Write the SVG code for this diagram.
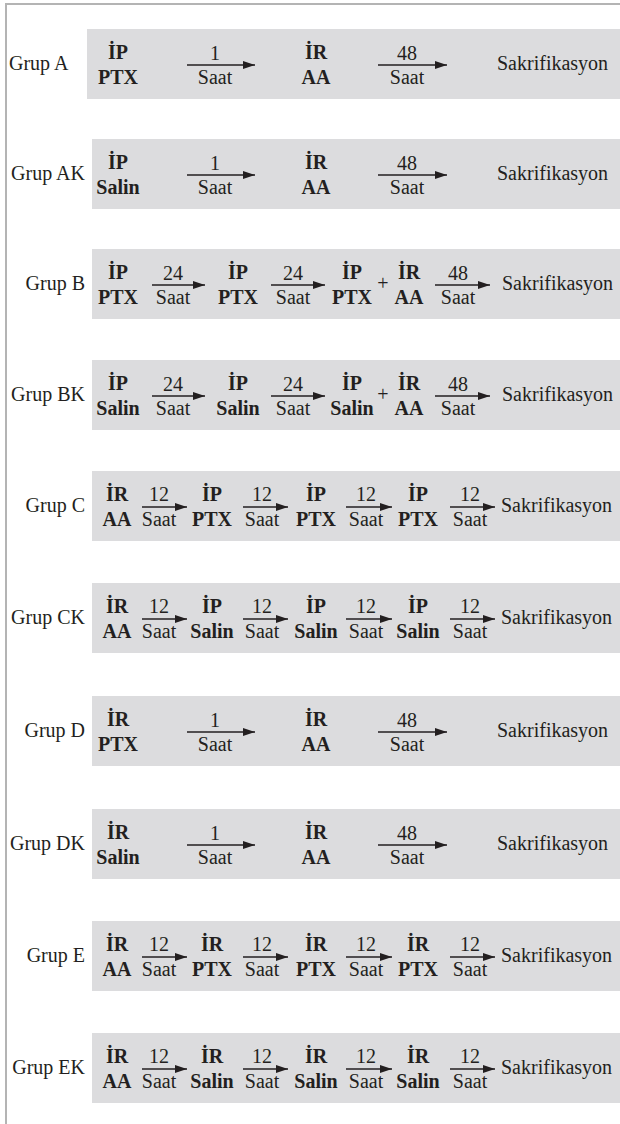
<svg xmlns="http://www.w3.org/2000/svg" width="620" height="1124" viewBox="0 0 620 1124">
  <style>
    text { font-family: "Liberation Serif", serif; font-size: 20px; fill: #231f20; }
    .b { font-weight: bold; }
    .m { text-anchor: middle; }
    .e { text-anchor: end; }
    .box { fill: #dcdcde; }
    .arr { stroke: #231f20; stroke-width: 1.5; fill: none; marker-end: url(#ah); }
  </style>
  <defs>
    <marker id="ah" markerUnits="userSpaceOnUse" markerWidth="12" markerHeight="8" refX="12" refY="4" orient="auto">
      <path d="M0,0 L12,4 L0,8 z" fill="#231f20"/>
    </marker>
  </defs>

  <rect width="620" height="1124" fill="#ffffff"/>
  <!-- outer frame: top and left rules -->
  <path d="M6,1124 V4 H620" stroke="#b4b4b4" stroke-width="2" fill="none"/>

  <g font-family="Liberation Serif, serif">
  <!-- Grup A -->
  <g id="grup-a" transform="translate(0,29)">
    <rect class="box" x="87" y="0" width="533" height="70"/>
    <text x="9" y="41">Grup A</text>
    <text class="b m" x="118" y="30">İP</text>
    <text class="b m" x="118" y="55">PTX</text>
    <text class="m" x="215" y="31">1</text>
    <text class="m" x="215" y="55">Saat</text>
    <text class="b m" x="316" y="30">İR</text>
    <text class="b m" x="316" y="55">AA</text>
    <text class="m" x="407" y="31">48</text>
    <text class="m" x="407" y="55">Saat</text>
    <text x="497" y="41">Sakrifikasyon</text>
  </g>

  <!-- Grup AK -->
  <g id="grup-ak" transform="translate(0,139)">
    <rect class="box" x="92" y="0" width="528" height="70"/>
    <text class="e" x="85" y="41">Grup AK</text>
    <text class="b m" x="118" y="30">İP</text>
    <text class="b m" x="118" y="55">Salin</text>
    <text class="m" x="215" y="31">1</text>
    <text class="m" x="215" y="55">Saat</text>
    <text class="b m" x="316" y="30">İR</text>
    <text class="b m" x="316" y="55">AA</text>
    <text class="m" x="407" y="31">48</text>
    <text class="m" x="407" y="55">Saat</text>
    <text x="497" y="41">Sakrifikasyon</text>
  </g>

  <!-- Grup B -->
  <g id="grup-b" transform="translate(0,249)">
    <rect class="box" x="92" y="0" width="528" height="70"/>
    <text class="e" x="85" y="41">Grup B</text>
    <text class="b m" x="118" y="30">İP</text>
    <text class="b m" x="118" y="55">PTX</text>
    <text class="m" x="173" y="31">24</text>
    <text class="m" x="173" y="55">Saat</text>
    <text class="b m" x="238" y="30">İP</text>
    <text class="b m" x="238" y="55">PTX</text>
    <text class="m" x="293" y="31">24</text>
    <text class="m" x="293" y="55">Saat</text>
    <text class="b m" x="352" y="30">İP</text>
    <text class="b m" x="352" y="55">PTX</text>
    <text class="m" x="383" y="41">+</text>
    <text class="b m" x="409" y="30">İR</text>
    <text class="b m" x="409" y="55">AA</text>
    <text class="m" x="458" y="31">48</text>
    <text class="m" x="458" y="55">Saat</text>
    <text x="502" y="41">Sakrifikasyon</text>
  </g>

  <!-- Grup BK -->
  <g id="grup-bk" transform="translate(0,360)">
    <rect class="box" x="92" y="0" width="528" height="70"/>
    <text class="e" x="85" y="41">Grup BK</text>
    <text class="b m" x="118" y="30">İP</text>
    <text class="b m" x="118" y="55">Salin</text>
    <text class="m" x="173" y="31">24</text>
    <text class="m" x="173" y="55">Saat</text>
    <text class="b m" x="238" y="30">İP</text>
    <text class="b m" x="238" y="55">Salin</text>
    <text class="m" x="293" y="31">24</text>
    <text class="m" x="293" y="55">Saat</text>
    <text class="b m" x="352" y="30">İP</text>
    <text class="b m" x="352" y="55">Salin</text>
    <text class="m" x="383" y="41">+</text>
    <text class="b m" x="409" y="30">İR</text>
    <text class="b m" x="409" y="55">AA</text>
    <text class="m" x="458" y="31">48</text>
    <text class="m" x="458" y="55">Saat</text>
    <text x="502" y="41">Sakrifikasyon</text>
  </g>

  <!-- Grup C -->
  <g id="grup-c" transform="translate(0,471)">
    <rect class="box" x="92" y="0" width="528" height="70"/>
    <text class="e" x="85" y="41">Grup C</text>
    <text class="b m" x="117" y="30">İR</text>
    <text class="b m" x="117" y="55">AA</text>
    <text class="m" x="159" y="30">12</text>
    <text class="m" x="159" y="55">Saat</text>
    <text class="b m" x="212" y="30">İP</text>
    <text class="b m" x="212" y="55">PTX</text>
    <text class="m" x="262" y="30">12</text>
    <text class="m" x="262" y="55">Saat</text>
    <text class="b m" x="316" y="30">İP</text>
    <text class="b m" x="316" y="55">PTX</text>
    <text class="m" x="366" y="30">12</text>
    <text class="m" x="366" y="55">Saat</text>
    <text class="b m" x="418" y="30">İP</text>
    <text class="b m" x="418" y="55">PTX</text>
    <text class="m" x="470" y="30">12</text>
    <text class="m" x="470" y="55">Saat</text>
    <text x="501" y="41">Sakrifikasyon</text>
  </g>

  <!-- Grup CK -->
  <g id="grup-ck" transform="translate(0,583)">
    <rect class="box" x="92" y="0" width="528" height="70"/>
    <text class="e" x="85" y="41">Grup CK</text>
    <text class="b m" x="117" y="30">İR</text>
    <text class="b m" x="117" y="55">AA</text>
    <text class="m" x="159" y="30">12</text>
    <text class="m" x="159" y="55">Saat</text>
    <text class="b m" x="212" y="30">İP</text>
    <text class="b m" x="212" y="55">Salin</text>
    <text class="m" x="262" y="30">12</text>
    <text class="m" x="262" y="55">Saat</text>
    <text class="b m" x="316" y="30">İP</text>
    <text class="b m" x="316" y="55">Salin</text>
    <text class="m" x="366" y="30">12</text>
    <text class="m" x="366" y="55">Saat</text>
    <text class="b m" x="418" y="30">İP</text>
    <text class="b m" x="418" y="55">Salin</text>
    <text class="m" x="470" y="30">12</text>
    <text class="m" x="470" y="55">Saat</text>
    <text x="501" y="41">Sakrifikasyon</text>
  </g>

  <!-- Grup D -->
  <g id="grup-d" transform="translate(0,696)">
    <rect class="box" x="92" y="0" width="528" height="70"/>
    <text class="e" x="85" y="41">Grup D</text>
    <text class="b m" x="118" y="30">İR</text>
    <text class="b m" x="118" y="55">PTX</text>
    <text class="m" x="215" y="31">1</text>
    <text class="m" x="215" y="55">Saat</text>
    <text class="b m" x="316" y="30">İR</text>
    <text class="b m" x="316" y="55">AA</text>
    <text class="m" x="407" y="31">48</text>
    <text class="m" x="407" y="55">Saat</text>
    <text x="497" y="41">Sakrifikasyon</text>
  </g>

  <!-- Grup DK -->
  <g id="grup-dk" transform="translate(0,809)">
    <rect class="box" x="92" y="0" width="528" height="70"/>
    <text class="e" x="85" y="41">Grup DK</text>
    <text class="b m" x="118" y="30">İR</text>
    <text class="b m" x="118" y="55">Salin</text>
    <text class="m" x="215" y="31">1</text>
    <text class="m" x="215" y="55">Saat</text>
    <text class="b m" x="316" y="30">İR</text>
    <text class="b m" x="316" y="55">AA</text>
    <text class="m" x="407" y="31">48</text>
    <text class="m" x="407" y="55">Saat</text>
    <text x="497" y="41">Sakrifikasyon</text>
  </g>

  <!-- Grup E -->
  <g id="grup-e" transform="translate(0,921)">
    <rect class="box" x="92" y="0" width="528" height="70"/>
    <text class="e" x="85" y="41">Grup E</text>
    <text class="b m" x="117" y="30">İR</text>
    <text class="b m" x="117" y="55">AA</text>
    <text class="m" x="159" y="30">12</text>
    <text class="m" x="159" y="55">Saat</text>
    <text class="b m" x="212" y="30">İR</text>
    <text class="b m" x="212" y="55">PTX</text>
    <text class="m" x="262" y="30">12</text>
    <text class="m" x="262" y="55">Saat</text>
    <text class="b m" x="316" y="30">İR</text>
    <text class="b m" x="316" y="55">PTX</text>
    <text class="m" x="366" y="30">12</text>
    <text class="m" x="366" y="55">Saat</text>
    <text class="b m" x="418" y="30">İR</text>
    <text class="b m" x="418" y="55">PTX</text>
    <text class="m" x="470" y="30">12</text>
    <text class="m" x="470" y="55">Saat</text>
    <text x="501" y="41">Sakrifikasyon</text>
  </g>

  <!-- Grup EK -->
  <g id="grup-ek" transform="translate(0,1033)">
    <rect class="box" x="92" y="0" width="528" height="70"/>
    <text class="e" x="85" y="41">Grup EK</text>
    <text class="b m" x="117" y="30">İR</text>
    <text class="b m" x="117" y="55">AA</text>
    <text class="m" x="159" y="30">12</text>
    <text class="m" x="159" y="55">Saat</text>
    <text class="b m" x="212" y="30">İR</text>
    <text class="b m" x="212" y="55">Salin</text>
    <text class="m" x="262" y="30">12</text>
    <text class="m" x="262" y="55">Saat</text>
    <text class="b m" x="316" y="30">İR</text>
    <text class="b m" x="316" y="55">Salin</text>
    <text class="m" x="366" y="30">12</text>
    <text class="m" x="366" y="55">Saat</text>
    <text class="b m" x="418" y="30">İR</text>
    <text class="b m" x="418" y="55">Salin</text>
    <text class="m" x="470" y="30">12</text>
    <text class="m" x="470" y="55">Saat</text>
    <text x="501" y="41">Sakrifikasyon</text>
  </g>
  </g>

  <!-- time-step arrows, one line per step so each gets its own head -->
  <g id="connectors">
    <!-- two-step rows: A, AK, D, DK -->
    <line class="arr" x1="187" y1="65" x2="255" y2="65"/>
    <line class="arr" x1="378" y1="65" x2="447" y2="65"/>
    <line class="arr" x1="187" y1="175" x2="255" y2="175"/>
    <line class="arr" x1="378" y1="175" x2="447" y2="175"/>
    <line class="arr" x1="187" y1="732" x2="255" y2="732"/>
    <line class="arr" x1="378" y1="732" x2="447" y2="732"/>
    <line class="arr" x1="187" y1="845" x2="255" y2="845"/>
    <line class="arr" x1="378" y1="845" x2="447" y2="845"/>
    <!-- three-step rows: B, BK -->
    <line class="arr" x1="152" y1="285" x2="205" y2="285"/>
    <line class="arr" x1="271" y1="285" x2="325" y2="285"/>
    <line class="arr" x1="435" y1="285" x2="490" y2="285"/>
    <line class="arr" x1="152" y1="396" x2="205" y2="396"/>
    <line class="arr" x1="271" y1="396" x2="325" y2="396"/>
    <line class="arr" x1="435" y1="396" x2="490" y2="396"/>
    <!-- four-step rows: C, CK, E, EK -->
    <line class="arr" x1="142" y1="507" x2="187" y2="507"/>
    <line class="arr" x1="243" y1="507" x2="288" y2="507"/>
    <line class="arr" x1="346" y1="507" x2="392" y2="507"/>
    <line class="arr" x1="450" y1="507" x2="495" y2="507"/>
    <line class="arr" x1="142" y1="619" x2="187" y2="619"/>
    <line class="arr" x1="243" y1="619" x2="288" y2="619"/>
    <line class="arr" x1="346" y1="619" x2="392" y2="619"/>
    <line class="arr" x1="450" y1="619" x2="495" y2="619"/>
    <line class="arr" x1="142" y1="957" x2="187" y2="957"/>
    <line class="arr" x1="243" y1="957" x2="288" y2="957"/>
    <line class="arr" x1="346" y1="957" x2="392" y2="957"/>
    <line class="arr" x1="450" y1="957" x2="495" y2="957"/>
    <line class="arr" x1="142" y1="1069" x2="187" y2="1069"/>
    <line class="arr" x1="243" y1="1069" x2="288" y2="1069"/>
    <line class="arr" x1="346" y1="1069" x2="392" y2="1069"/>
    <line class="arr" x1="450" y1="1069" x2="495" y2="1069"/>
  </g>
</svg>
